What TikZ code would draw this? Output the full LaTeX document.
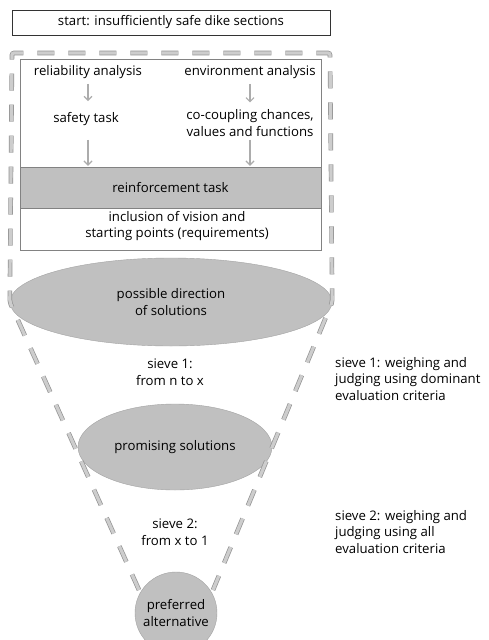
\documentclass[tikz,border=0pt]{standalone}
\usepackage{fontspec}
\setmainfont{Open Sans}
\usetikzlibrary{shapes.geometric,arrows.meta,positioning}
\definecolor{sievegray}{RGB}{192,192,192}
\definecolor{framegray}{RGB}{130,130,130}
\definecolor{dashgray}{RGB}{205,205,205}

\tikzset{
  txt/.style={font=\fontsize{13.2}{16.5}\selectfont, align=center, inner sep=0pt},
  sieve/.style={ellipse, fill=sievegray, draw=sievegray!85!black, line width=0.4pt, inner sep=0pt, txt},
  flow/.style={draw=gray!65, line width=1.2pt, -{Straight Barb[length=4pt,width=8pt]}},
  funnel/.style={dash pattern=on 17pt off 14pt, draw=gray!85, double=dashgray, double distance=3.2pt, line width=0.7pt},
}

\begin{document}
\begin{tikzpicture}[x=1pt,y=-1pt]
    \clip (0,0) rectangle (489,640);
    \fill[white] (0,0) rectangle (489,640);

    \node[draw=black!80, line width=0.6pt, minimum width=318pt, minimum height=25pt, txt] (start) at (171,22.5) {start: insufficiently safe dike sections};

    % analysis box
    \node[draw=framegray, line width=0.8pt, minimum width=301pt, minimum height=191pt, inner sep=0pt] (frame) at (170.5,154.5) {};
    \node[fill=sievegray, draw=framegray, line width=0.5pt, minimum width=301pt, minimum height=41pt, txt] (task) at (170.5,187.5) {reinforcement task};

    \node[txt] (rel) at (88,72) {reliability analysis};
    \node[txt] (env) at (250,72) {environment analysis};
    \node[txt] (safety) at (86,119) {safety task};
    \node[txt] (cocoup) at (250,123) {co-coupling chances,\\values and functions};
    \node[txt] (vision) at (177,226) {inclusion of vision and\\starting points (requirements)};

    \draw[flow, shorten <=5pt, shorten >=11pt] (rel.south) -- (rel.south |- safety.north);
    \draw[flow, shorten <=5pt, shorten >=7pt] (env.south) -- (env.south |- cocoup.north);
    \draw[flow, shorten <=14pt, shorten >=1pt] (rel.south |- safety.south) -- (rel.south |- task.north);
    \draw[flow, shorten <=3pt, shorten >=1pt] (env.south |- cocoup.south) -- (env.south |- task.north);

    % sieves
    \node[sieve, minimum width=322pt, minimum height=88pt] (possible) at (171,302) {possible direction\\of solutions};
    \node[sieve, minimum width=194pt, minimum height=86pt] (promising) at (175,447) {promising solutions};
    \node[sieve, circle, minimum size=82pt] (pref) at (176,613) {preferred\\alternative};

    \node[txt] (sieve1) at (170,372) {sieve 1:\\from n to x};
    \node[txt] (sieve2) at (175,532) {sieve 2:\\from x to 1};

    \node[txt, align=left, anchor=west] (crit1) at (335,379) {sieve 1: weighing and\\judging using dominant\\evaluation criteria};
    \node[txt, align=left, anchor=west] (crit2) at (335,532) {sieve 2: weighing and\\judging using all\\evaluation criteria};

    % funnel
    \coordinate (ftl) at (12,53);
    \coordinate (ftr) at (330,53);
    \coordinate (fbl) at (139,590);
    \coordinate (fbr) at (213,590);
    \draw[funnel, rounded corners=2pt] (fbl) -- (possible.west) -- (ftl) -- (ftr) -- (possible.east) -- (fbr);
\end{tikzpicture}
\end{document}
